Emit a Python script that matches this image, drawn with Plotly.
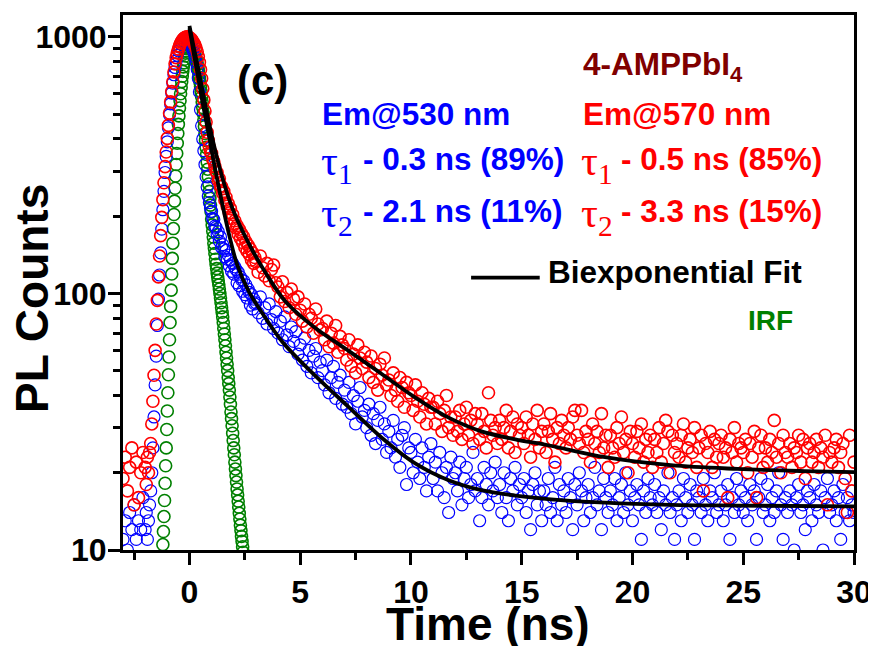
import numpy as np
import plotly.graph_objects as go

# ---------------- time grids (ns) ----------------
t_base = np.round(np.arange(-3.0, -2.05, 0.1), 3)      # 10 channels
t_fine = np.round(np.arange(-2.0, 2.975, 0.05), 3)     # 100 channels
t_tail = np.round(np.arange(3.0, 30.05, 0.1), 3)       # 271 channels
time_ns = np.concatenate([t_base, t_fine, t_tail])

t_irf = np.round(np.arange(-1.225, 2.4626, 0.025), 3)  # 148 channels

# ---------------- Em@530 nm (blue) ----------------
blue_base = [11, 13, 10, 14, 12, 15, 11, 13, 12, 16]
blue_fine = [12, 14, 11, 13, 15, 17, 20, 25, 33, 44,
             57, 75, 95, 118, 144, 178, 212, 250, 296, 342,
             390, 442, 497, 548, 604, 660, 712, 760, 806, 848,
             882, 913, 938, 958, 974, 985, 992, 988, 980, 968,
             955, 938, 915, 893, 870, 835, 795, 748, 690, 610,
             520, 450, 400, 360, 318, 285, 260, 240, 226, 215,
             209, 196, 194, 183, 181, 170, 174, 160, 166, 151,
             155, 149, 139, 147, 136, 141, 128, 135, 122, 131,
             119, 127, 124, 110, 121, 107, 116, 113, 102, 112,
             99, 108, 96, 104, 101, 90, 99, 87, 95, 91]
blue_tail = [92, 84, 97, 80, 88, 76, 91, 79, 73, 85,
             70, 78, 66, 81, 69, 62, 74, 65, 71, 58,
             63, 55, 67, 52, 60, 49, 57, 61, 47, 54,
             50, 44, 55, 41, 47, 52, 39, 45, 48, 37,
             42, 36, 45, 34, 40, 31, 38, 43, 33, 35,
             30, 37, 28, 34, 26, 32, 36, 27, 31, 24,
             29, 25, 32, 23, 27, 21, 28, 30, 18, 25,
             24, 20, 27, 22, 19, 25, 21, 17, 23, 26,
             19, 22, 17, 24, 20, 16, 21, 14, 23, 19,
             20, 17, 22, 15, 19, 21, 16, 18, 24, 17,
             19, 13, 16, 21, 18, 15, 20, 17, 22, 16,
             18, 14, 20, 16, 13, 19, 17, 21, 15, 18,
             16, 19, 14, 17, 12, 18, 20, 15, 17, 13,
             17, 15, 19, 14, 16, 21, 13, 18, 15, 17,
             14, 19, 16, 12, 18, 15, 20, 17, 13, 16,
             18, 14, 16, 21, 15, 17, 12, 19, 16, 14,
             17, 15, 19, 13, 16, 18, 14, 20, 15, 17,
             13, 16, 18, 15, 11, 17, 14, 19, 16, 15,
             18, 14, 16, 12, 17, 15, 20, 14, 16, 11,
             15, 17, 13, 19, 16, 14, 18, 15, 11, 17,
             16, 14, 19, 15, 13, 17, 16, 20, 14, 15,
             17, 13, 15, 18, 11, 16, 14, 19, 15, 17,
             14, 16, 13, 18, 15, 17, 11, 16, 19, 14,
             15, 18, 13, 16, 14, 17, 20, 15, 11, 16,
             14, 17, 15, 10, 16, 18, 14, 15, 12, 17,
             16, 13, 18, 15, 14, 17, 10, 16, 19, 14,
             15, 17, 13, 16, 11, 18, 14, 16, 13, 15,
             14]
blue_counts = blue_base + blue_fine + blue_tail

# ---------------- Em@570 nm (red) ----------------
red_base = [19, 23, 17, 21, 25, 15, 22, 16, 20, 24]
red_fine = [21, 18, 23, 20, 24, 26, 31, 38, 48, 60,
            76, 94, 116, 140, 168, 198, 232, 270, 312, 356,
            402, 452, 505, 558, 612, 668, 730, 785, 830, 866,
            896, 922, 944, 962, 976, 987, 994, 999, 1000, 998,
            994, 986, 976, 962, 944, 930, 905, 875, 838, 796,
            745, 688, 628, 568, 514, 466, 425, 395, 372, 356,
            352, 334, 326, 312, 298, 296, 276, 280, 262, 261,
            246, 250, 231, 237, 219, 224, 206, 214, 196, 203,
            186, 192, 180, 184, 170, 178, 164, 171, 158, 166,
            151, 159, 146, 154, 142, 149, 135, 144, 131, 138]
red_tail = [133, 121, 140, 126, 117, 131, 112, 124, 129, 110,
            106, 97, 111, 93, 101, 88, 104, 95, 83, 97,
            86, 78, 91, 74, 83, 80, 70, 87, 76, 72,
            73, 66, 78, 62, 70, 64, 75, 59, 68, 63,
            61, 55, 66, 52, 58, 49, 63, 56, 51, 59,
            54, 47, 57, 45, 51, 42, 53, 48, 56, 44,
            46, 40, 49, 42, 38, 47, 43, 36, 45, 41,
            40, 35, 44, 38, 33, 41, 37, 31, 39, 36,
            36, 31, 38, 34, 29, 35, 40, 30, 33, 28,
            33, 29, 35, 27, 31, 36, 28, 32, 26, 34,
            31, 27, 34, 29, 25, 41, 32, 28, 30, 26,
            32, 27, 30, 35, 25, 29, 33, 24, 31, 28,
            30, 26, 33, 28, 23, 31, 27, 35, 25, 29,
            31, 24, 29, 34, 27, 22, 30, 26, 32, 28,
            25, 30, 27, 33, 35, 28, 26, 35, 24, 29,
            27, 22, 31, 26, 29, 24, 34, 25, 28, 21,
            28, 25, 23, 30, 26, 33, 24, 27, 20, 29,
            26, 23, 29, 25, 31, 22, 27, 24, 28, 21,
            27, 24, 30, 22, 26, 32, 29, 20, 28, 24,
            26, 23, 28, 31, 22, 25, 27, 24, 30, 21,
            25, 28, 17, 26, 24, 29, 21, 27, 23, 26,
            28, 23, 25, 16, 27, 24, 30, 22, 26, 25,
            24, 27, 20, 26, 23, 29, 16, 25, 28, 21,
            25, 22, 27, 24, 32, 23, 26, 20, 28, 24,
            23, 26, 21, 25, 24, 28, 22, 27, 19, 25,
            26, 22, 24, 27, 21, 25, 23, 28, 15, 24,
            22, 25, 27, 21, 24, 26, 19, 14, 28, 17,
            22]
red_counts = red_base + red_fine + red_tail

# ---------------- IRF (green) ----------------
irf_counts = [9.4, 10.5, 11.8, 13.5, 15.6, 18.2, 21.3, 25.0, 29.5, 34.8,
              41.0, 48.2, 56.5, 66.0, 77.0, 89.0, 103, 119, 137, 157,
              179, 203, 229, 257, 287, 318, 351, 385, 420, 456,
              492, 528, 564, 600, 635, 669, 702, 734, 764, 792,
              818, 842, 864, 883, 900, 914, 925, 933, 938,
              940, 938, 934, 928, 920, 911, 901, 891, 880, 866,
              851, 836, 820, 801, 781, 761, 740, 715, 690, 665,
              640, 612, 584, 557, 530, 502, 474, 447, 420, 395,
              371, 348, 325, 305, 285, 267, 250, 235, 221, 208,
              195, 185, 175, 166, 157, 150, 143, 136, 130, 125,
              120, 116, 112, 108, 104, 100, 96, 92, 88, 84.5,
              81, 77, 73, 69.5, 66, 62.5, 59, 56, 53, 50,
              47, 44.5, 42, 39.5, 37, 34.5, 32.5, 30.5, 28.5, 26.7,
              25, 23.5, 22, 20.7, 19.5, 18.4, 17.3, 16.4, 15.5, 14.7,
              13.9, 13.2, 12.5, 11.9, 11.3, 10.8, 10.3, 9.8, 9.4]

# ---------------- Biexponential fits ----------------
fit_blue_t = [0, 0.2, 0.4, 0.6, 0.81, 1.1, 1.44, 1.8, 2.16, 2.7, 3.24, 4.18,
              5.71, 7.2, 8.68, 10.21, 11.7, 13.18, 14.71, 16.19, 18.76, 21.73, 24.74, 30]
fit_blue_v = [1080, 857, 690, 550, 444, 325, 232, 168, 129, 101, 85, 65,
              47.5, 36, 27.4, 21.7, 18.7, 17.1, 16.3, 15.8, 15.3, 15.0, 14.9, 14.8]
fit_red_t = [0, 0.2, 0.4, 0.6, 0.9, 1.2, 1.57, 2.0, 2.79, 3.5, 4.2, 4.72, 5.71,
             7.2, 8.68, 10.21, 11.7, 13.18, 14.71, 16.19, 18.76, 21.73, 24.74, 27.76, 30]
fit_red_v = [1104, 905, 750, 610, 455, 350, 267, 208, 150, 118, 96, 86, 73,
             59.6, 48.5, 39.2, 32.8, 29.0, 27.0, 25.6, 23.0, 21.4, 20.7, 20.3, 20.1]

x_ticks = [0, 5, 10, 15, 20, 25, 30]
x_minor = [-2.5, 2.5, 7.5, 12.5, 17.5, 22.5, 27.5]
y_ticks = [10, 100, 1000]
y_minor = [20, 30, 40, 50, 60, 70, 80, 90, 200, 300, 400, 500, 600, 700, 800, 900]

FONT = "Liberation Sans, Arial, sans-serif"
SERIF = "Liberation Serif, Times New Roman, serif"

fig = go.Figure()
fig.add_trace(go.Scatter(x=t_irf, y=irf_counts, mode="markers",
                         marker=dict(symbol="circle-open", size=12, color="#008000",
                                     line=dict(width=1.6, color="#008000"))))
fig.add_trace(go.Scatter(x=time_ns, y=blue_counts, mode="markers",
                         marker=dict(symbol="circle-open", size=12, color="#0000FF",
                                     line=dict(width=1.2, color="#0000FF"))))
fig.add_trace(go.Scatter(x=time_ns, y=red_counts, mode="markers",
                         marker=dict(symbol="circle-open", size=12, color="#FF0000",
                                     line=dict(width=1.6, color="#FF0000"))))
fig.add_trace(go.Scatter(x=fit_blue_t, y=fit_blue_v, mode="lines",
                         line=dict(color="black", width=3.8, shape="spline")))
fig.add_trace(go.Scatter(x=fit_red_t, y=fit_red_v, mode="lines",
                         line=dict(color="black", width=3.8, shape="spline")))

# reference-pixel frame of the plotting area; the page body adds an 8 px offset
OFF = 8
L, R, T, B = 123, 858, 12, 550
W, H = 876 - OFF, 646 - OFF


def px(xp):
    return (xp - L) / (R - L)


def py(yp):
    return (B - yp) / (B - T)


def note(text, x, y, color="black", size=31.5, family=FONT, weight="bold",
         xanchor="left", yanchor="middle", angle=0):
    return dict(text=text, x=px(x), y=py(y), xref="paper", yref="paper",
                xanchor=xanchor, yanchor=yanchor, showarrow=False, textangle=angle,
                font=dict(family=family, size=size, color=color, weight=weight))


annotations = [
    note("Time (ns)", 490, 624, size=46, xanchor="center"),
    note("PL Counts", 32, 297, size=46, xanchor="center", angle=-90),
    note("(c)", 236, 78, size=42),
    note("Em@530 nm", 321, 112, color="#0000FF"),
    note("τ<sub>1</sub>", 320, 162, color="#0000FF", family=SERIF, weight="normal", size=42),
    note("- 0.3 ns (89%)", 362, 157, color="#0000FF"),
    note("τ<sub>2</sub>", 320, 214, color="#0000FF", family=SERIF, weight="normal", size=42),
    note("- 2.1 ns (11%)", 362, 209, color="#0000FF"),
    note("4-AMPPbI<sub>4</sub>", 584, 64, color="#800000"),
    note("Em@570 nm", 584, 112, color="#FF0000"),
    note("τ<sub>1</sub>", 581, 162, color="#FF0000", family=SERIF, weight="normal", size=42),
    note("- 0.5 ns (85%)", 622, 157, color="#FF0000"),
    note("τ<sub>2</sub>", 581, 214, color="#FF0000", family=SERIF, weight="normal", size=42),
    note("- 3.3 ns (15%)", 622, 209, color="#FF0000"),
    note("Biexponential Fit", 548, 270),
    note("IRF", 749, 319, color="#008000", size=28),
]

shapes = [dict(type="line", xref="paper", yref="paper", x0=px(473), x1=px(542),
               y0=py(276), y1=py(276), line=dict(color="black", width=3.8))]

axis_common = dict(showline=True, linewidth=3, linecolor="black", mirror=True,
                   showgrid=False, zeroline=False, ticks="outside", ticklen=12,
                   tickwidth=3, tickcolor="black",
                   tickfont=dict(family=FONT, size=32, color="black", weight="bold"))

fig.update_layout(
    width=W, height=H,
    margin=dict(l=L - OFF, r=876 - R, t=T - OFF, b=646 - B),
    paper_bgcolor="white", plot_bgcolor="white",
    showlegend=False,
    annotations=annotations, shapes=shapes,
    xaxis=dict(range=[-3, 30], tickmode="array", tickvals=x_ticks,
               ticktext=[str(v) for v in x_ticks],
               minor=dict(tickmode="array", tickvals=x_minor, ticks="outside",
                          ticklen=7, tickwidth=3, tickcolor="black"),
               **axis_common),
    yaxis=dict(type="log", range=[1, 1 + (B - T) / 258.0], tickmode="array",
               tickvals=y_ticks, ticktext=[str(v) for v in y_ticks],
               ticklabelstandoff=-5,
               minor=dict(tickmode="array", tickvals=y_minor, ticks="outside",
                          ticklen=7, tickwidth=3, tickcolor="black"),
               **axis_common),
)

fig.write_html("out.html")
